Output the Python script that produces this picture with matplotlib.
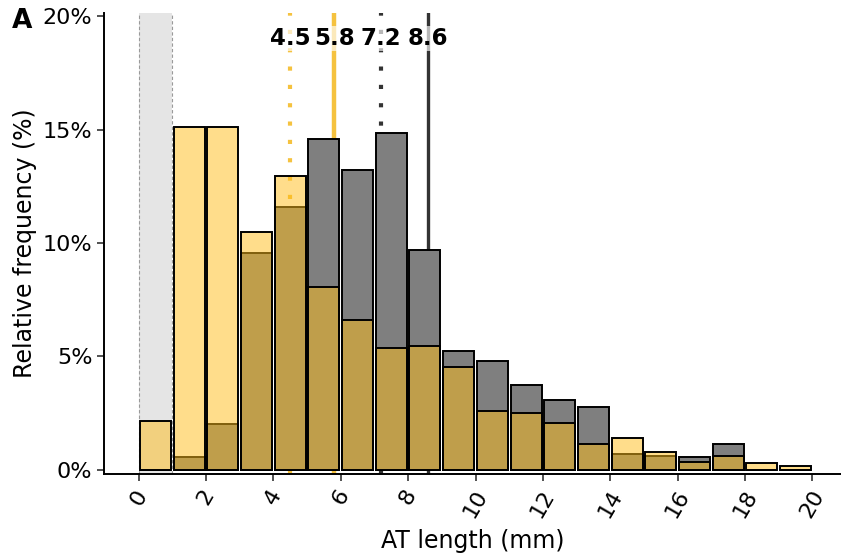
import numpy as np
import matplotlib
matplotlib.use("Agg")
import matplotlib.pyplot as plt
from matplotlib.colors import to_rgba

# Relative frequency (%) per 1 mm bin of AT length, bins 0-1 ... 19-20
bin_left = np.arange(0, 20)
dark_pct = [0.0, 0.55, 2.03, 9.55, 11.6, 14.6, 13.2, 14.85, 9.7, 5.25,
            4.8, 3.75, 3.07, 2.78, 0.7, 0.6, 0.55, 1.15, 0.0, 0.0]
yellow_pct = [2.15, 15.1, 15.1, 10.5, 12.95, 8.05, 6.6, 5.35, 5.45, 4.55,
              2.58, 2.48, 2.05, 1.15, 1.4, 0.78, 0.32, 0.6, 0.28, 0.18]

# median / mean markers
yellow_lines = [4.5, 5.8]
dark_lines = [7.2, 8.6]
x_ticks = np.arange(0, 21, 2)
y_ticks = [0, 5, 10, 15, 20]

YELLOW = "#FFBD19"
YELLOW_LINE = "#F5C23F"
DARK_LINE = "#333333"

plt.rcParams['font.family'] = ['DejaVu Sans']

fig = plt.figure(figsize=(8.41, 5.58), dpi=100)
ax = fig.add_axes([0.124, 0.151, 0.876, 0.826])

# excluded region
ax.axvspan(0, 1, color="#E5E5E5", zorder=0, lw=0)
for xv in (0, 1):
    ax.axvline(xv, color="#9A9A9A", lw=0.8, ls=(0, (3, 2)), zorder=0.5)

ax.axvline(yellow_lines[0], color=YELLOW_LINE, lw=3, ls=(0, (1, 3.4)), zorder=1)
ax.axvline(yellow_lines[1], color=YELLOW_LINE, lw=3.2, zorder=1)
ax.axvline(dark_lines[0], color=DARK_LINE, lw=3, ls=(0, (1, 3.4)), zorder=1)
ax.axvline(dark_lines[1], color=DARK_LINE, lw=2.4, zorder=1)

centers = bin_left + 0.5
ax.bar(centers, dark_pct, width=0.92, color="#7F7F7F", edgecolor="black", lw=1.4, zorder=2)
ax.bar(centers, yellow_pct, width=0.92, color=to_rgba(YELLOW, 0.5), edgecolor="black", lw=1.4, zorder=3)

for v in yellow_lines + dark_lines:
    ax.text(v, 19.03, f"{v:.1f}", ha="center", va="center", fontsize=16.5, fontweight="bold",
            zorder=5, bbox=dict(boxstyle="square,pad=0.05", fc="white", ec="none", alpha=0.65))

ax.set_xlim(-1.02, 20.85)
ax.set_ylim(-0.18, 20.15)
ax.set_xticks(x_ticks)
ax.set_xticklabels([str(t) for t in x_ticks], rotation=60, ha="center", va="top")
ax.set_yticks(y_ticks)
ax.set_yticklabels([f"{t}%" for t in y_ticks])
ax.tick_params(labelsize=16, length=5, width=1.2, color="#333333", labelcolor="black")
ax.tick_params(axis="x", pad=4)
ax.set_xlabel("AT length (mm)", fontsize=17, labelpad=6)
ax.set_ylabel("Relative frequency (%)", fontsize=17, labelpad=4)

for s in ("top", "right"):
    ax.spines[s].set_visible(False)
for s in ("left", "bottom"):
    ax.spines[s].set_linewidth(1.4)

fig.text(0.014, 0.962, "A", fontsize=19, fontweight="bold", ha="left", va="center")

fig.savefig("out.png", dpi=100)
plt.close(fig)
